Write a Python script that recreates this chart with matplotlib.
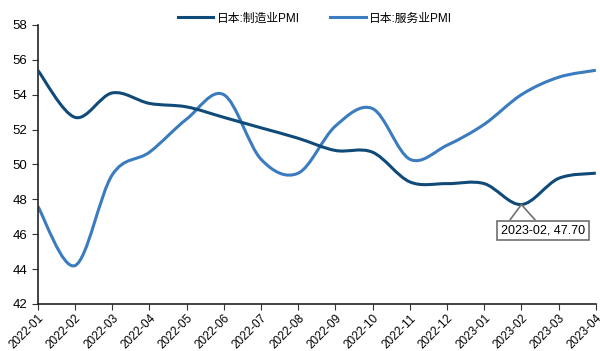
import numpy as np
import matplotlib
matplotlib.use("Agg")
import matplotlib.pyplot as plt
from matplotlib.path import Path
from matplotlib.patches import PathPatch
from matplotlib.lines import Line2D

plt.rcParams['font.family'] = ['Liberation Sans', 'Noto Sans CJK SC', 'DejaVu Sans']

months = ['2022-01', '2022-02', '2022-03', '2022-04', '2022-05', '2022-06',
          '2022-07', '2022-08', '2022-09', '2022-10', '2022-11', '2022-12',
          '2023-01', '2023-02', '2023-03', '2023-04']
manuf_pmi = [55.4, 52.7, 54.1, 53.5, 53.3, 52.7, 52.1, 51.5, 50.8, 50.7,
             49.0, 48.9, 48.9, 47.7, 49.2, 49.5]
service_pmi = [47.6, 44.2, 49.4, 50.7, 52.6, 54.0, 50.3, 49.5, 52.2, 53.2,
               50.3, 51.1, 52.3, 54.0, 55.0, 55.4]

c_manuf = '#0f4a78'
c_serv = '#3b7bbf'


def smooth_path(x, y):
    # Catmull-Rom bezier control points, like Excel's smoothed line
    x = np.asarray(x, float)
    y = np.asarray(y, float)
    verts = [(x[0], y[0])]
    codes = [Path.MOVETO]
    n = len(x)
    for i in range(n - 1):
        p0 = i - 1 if i > 0 else i
        p3 = i + 2 if i + 2 < n else i + 1
        c1 = (x[i] + (x[i + 1] - x[p0]) / 6, y[i] + (y[i + 1] - y[p0]) / 6)
        c2 = (x[i + 1] - (x[p3] - x[i]) / 6, y[i + 1] - (y[p3] - y[i]) / 6)
        verts += [c1, c2, (x[i + 1], y[i + 1])]
        codes += [Path.CURVE4] * 3
    return Path(verts, codes)


fig = plt.figure(figsize=(6, 3.51), dpi=100)
ax = fig.add_axes([0.063, 0.134, 0.93, 0.795])

xs = np.arange(len(months))
ax.add_patch(PathPatch(smooth_path(xs, manuf_pmi), fc='none', ec=c_manuf, lw=2.2, zorder=3))
ax.add_patch(PathPatch(smooth_path(xs, service_pmi), fc='none', ec=c_serv, lw=2.2, zorder=2))

ax.set_xlim(0, len(months) - 1)
ax.set_ylim(42, 58)
ax.set_yticks(np.arange(42, 59, 2))
ax.set_xticks(xs)
ax.set_xticklabels(months, rotation=45, ha='right', rotation_mode='anchor', fontsize=8.5)
ax.tick_params(axis='y', labelsize=9.5, length=4, direction='out', color='#333333')
ax.tick_params(axis='x', length=4, direction='out', color='#333333', pad=2)
for s in ['top', 'right']:
    ax.spines[s].set_visible(False)
for s in ['left', 'bottom']:
    ax.spines[s].set_color('#222222')
    ax.spines[s].set_linewidth(1.2)

handles = [Line2D([], [], color=c_manuf, lw=2.2), Line2D([], [], color=c_serv, lw=2.2)]
fig.legend(handles, ['日本:制造业PMI', '日本:服务业PMI'], loc='upper center',
           bbox_to_anchor=(0.525, 0.995), ncol=2, frameon=False, fontsize=8.5,
           handlelength=3.0, columnspacing=2.6, handletextpad=0.3)

# callout label for the February 2023 low
i = months.index('2023-02')
box_y, box_top = 46.22, 46.84
ax.text(i + 0.575, box_y, f'{months[i]}, {manuf_pmi[i]:.2f}', ha='center', va='center',
        fontsize=9, zorder=5,
        bbox=dict(boxstyle='square,pad=0.3', fc='white', ec='#707070', lw=1.2))
wx = [i - 0.3, i, i + 0.36]
wy = [box_top, manuf_pmi[i], box_top]
ax.fill(wx, wy, fc='white', ec='none', zorder=6)
ax.plot(wx, wy, color='#707070', lw=1.2, zorder=7, solid_joinstyle='miter')

fig.savefig('out.png', dpi=100)
